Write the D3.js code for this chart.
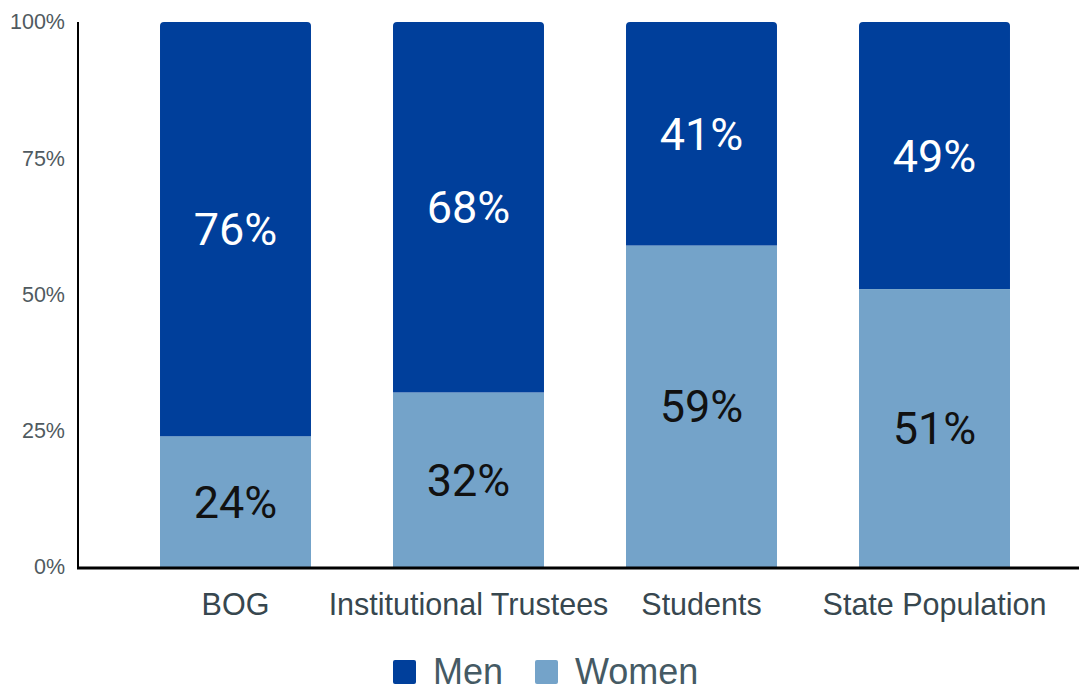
<!DOCTYPE html>
<html>
<head>
<meta charset="utf-8">
<script src="https://cdn.jsdelivr.net/npm/d3@7"></script>
<style>
  html, body { margin: 0; padding: 0; background: #fff; }
  svg { display: block; }
</style>
</head>
<body>
<svg id="chart" width="1079" height="690"></svg>
<script>
const categories = ["BOG", "Institutional Trustees", "Students", "State Population"];
const women = [24, 32, 59, 51];
const men = [76, 68, 41, 49];
const seriesNames = ["Men", "Women"];
const yTicks = [0, 25, 50, 75, 100];

const colors = { Men: "#003F9B", Women: "#74A3C9" };

const svg = d3.select("#chart");
const W = 1079, H = 690;

const x = d3.scaleBand().domain(categories).range([119, 1051]).paddingInner(0.352).paddingOuter(0.176);
const y = d3.scaleLinear().domain([0, 100]).range([567, 22]);

// y tick labels
const yAxis = d3.axisLeft(y).tickValues(yTicks).tickFormat(d => d + "%").tickSize(0).tickPadding(13);
const gy = svg.append("g").attr("transform", "translate(78,0)").call(yAxis);
gy.select(".domain").remove();
gy.selectAll("text").attr("font-family", "Liberation Sans, Arial, sans-serif").attr("font-size", 21.5).attr("fill", "#505a60");

// bars
const data = categories.map((c, i) => ({ c, women: women[i], men: men[i] }));

const g = svg.append("g");
// women segments (bottom)
g.selectAll("rect.w").data(data).join("rect")
  .attr("class", "w")
  .attr("x", d => x(d.c))
  .attr("width", x.bandwidth())
  .attr("y", d => y(d.women))
  .attr("height", d => y(0) - y(d.women))
  .attr("fill", colors.Women);

// men segments (top) with rounded top corners
g.selectAll("path.m").data(data).join("path")
  .attr("class", "m")
  .attr("fill", colors.Men)
  .attr("d", d => {
    const x0 = x(d.c), x1 = x0 + x.bandwidth();
    const yt = y(d.women + d.men), yb = y(d.women);
    const r = 4;
    return `M${x0},${yb}L${x0},${yt + r}Q${x0},${yt} ${x0 + r},${yt}L${x1 - r},${yt}Q${x1},${yt} ${x1},${yt + r}L${x1},${yb}Z`;
  });

// value labels
const lblFont = "Roboto, sans-serif";
g.selectAll("text.wl").data(data).join("text")
  .attr("x", d => x(d.c) + x.bandwidth() / 2)
  .attr("y", d => (y(0) + y(d.women)) / 2)
  .attr("dy", "0.355em")
  .attr("text-anchor", "middle")
  .attr("font-family", lblFont)
  .attr("font-size", 45)
  .attr("fill", "#111")
  .text(d => d.women + "%");
g.selectAll("text.ml").data(data).join("text")
  .attr("x", d => x(d.c) + x.bandwidth() / 2)
  .attr("y", d => (y(d.women) + y(d.women + d.men)) / 2)
  .attr("dy", "0.355em")
  .attr("text-anchor", "middle")
  .attr("font-family", lblFont)
  .attr("font-size", 45)
  .attr("fill", "#fff")
  .text(d => d.men + "%");

// axes lines
svg.append("line").attr("x1", 78).attr("x2", 78).attr("y1", 22).attr("y2", 568)
  .attr("stroke", "#000").attr("stroke-width", 2);
svg.append("line").attr("x1", 77).attr("x2", W).attr("y1", 568).attr("y2", 568)
  .attr("stroke", "#000").attr("stroke-width", 3);

// category labels
const xAxis = d3.axisBottom(x).tickSize(0).tickPadding(0);
const gx = svg.append("g").attr("transform", "translate(0,569)").call(xAxis);
gx.select(".domain").remove();
gx.selectAll("text")
  .attr("dy", null)
  .attr("y", 46)
  .attr("font-family", "Liberation Sans, Arial, sans-serif")
  .attr("font-size", 30.5)
  .attr("fill", "#37474f");

// legend
const legend = svg.append("g").attr("font-family", "Liberation Sans, Arial, sans-serif");
const legendX = [393, 535];
seriesNames.forEach((s, i) => {
  const lg = legend.append("g").attr("transform", `translate(${legendX[i]},660)`);
  lg.append("rect").attr("width", 23).attr("height", 24).attr("rx", 2).attr("fill", colors[s]);
  lg.append("text").attr("x", 40).attr("y", 24).attr("font-size", 36).attr("fill", "#455a64").text(s);
});
</script>
</body>
</html>
